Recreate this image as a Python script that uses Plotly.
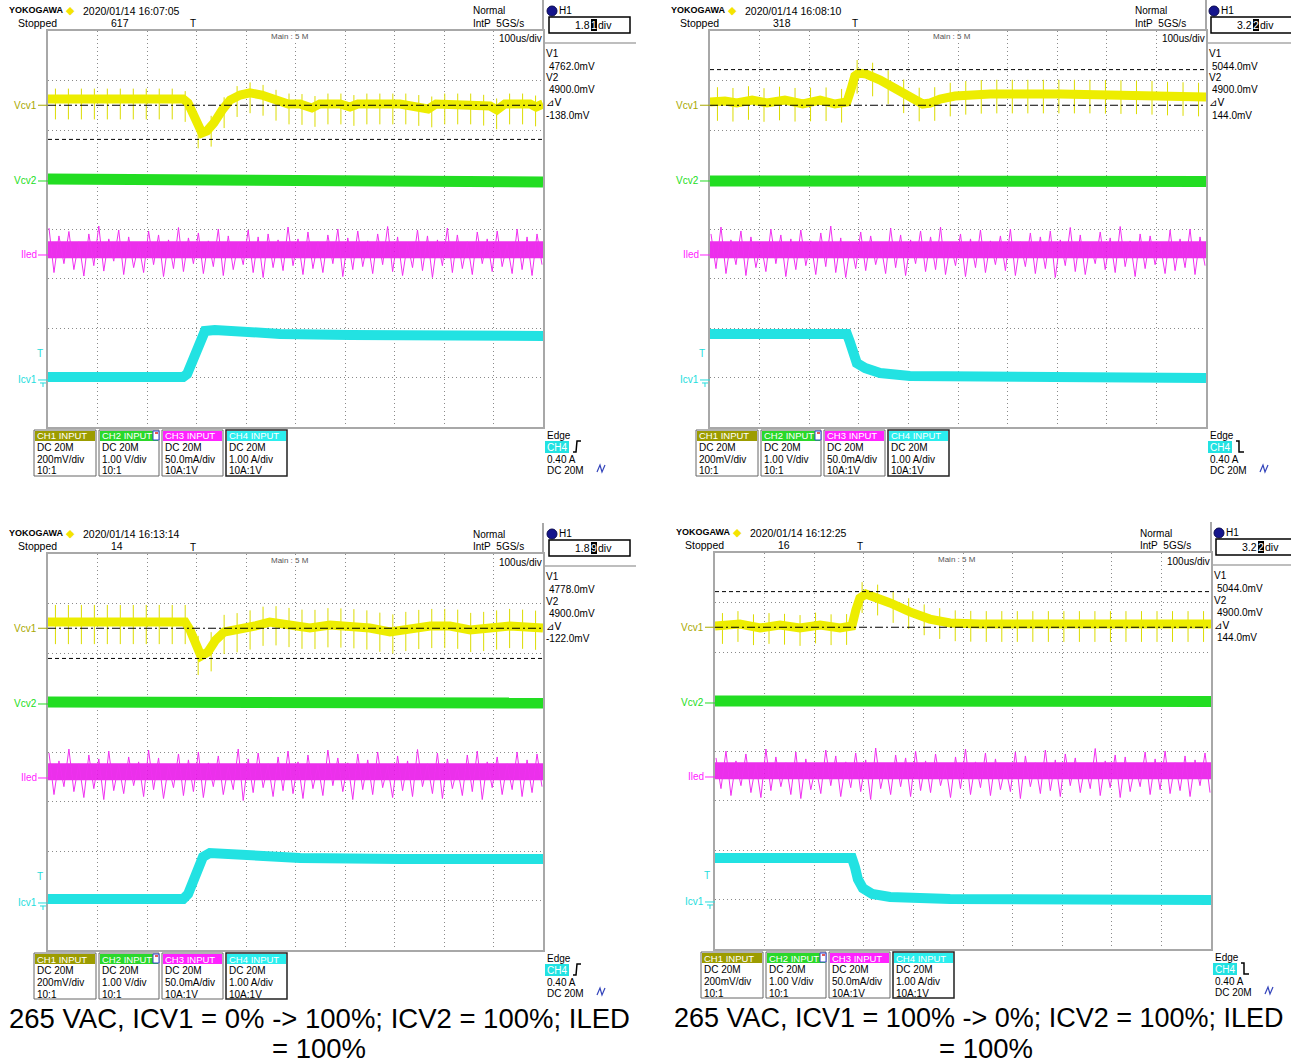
import numpy as np
import plotly.graph_objects as go

W, H = 1291, 1063
FONT = "Liberation Sans, Arial, sans-serif"

# ------------------------------------------------------------------
# Four scope captures, 100 us/div, 10 x 8 divisions.
# Time: microseconds from the left edge of the graticule.
# Vcv1 in mV (CH1), Icv1 in A (CH4), Vcv2 / Iled in screen divisions.
# ------------------------------------------------------------------
TIMESTAMPS = ["2020/01/14 16:07:05", "2020/01/14 16:08:10",
              "2020/01/14 16:13:14", "2020/01/14 16:12:25"]
ACQ_COUNTS = ["617", "318", "14", "16"]
H1_DIV = ["1.81", "3.22", "1.89", "3.22"]
CURSOR_V1_MV = [4762.0, 5044.0, 4778.0, 5044.0]
CURSOR_V2_MV = [4900.0, 4900.0, 4900.0, 4900.0]
TRIG_SLOPE = ["rise", "fall", "rise", "fall"]
TRIG_LEVEL_A = 0.40
TRIG_POS_US = 292
CAPTIONS = [
    ["265 VAC, ICV1 = 0% -> 100%; ICV2 = 100%; ILED", "= 100%"],
    ["265 VAC, ICV1 = 100% -> 0%; ICV2 = 100%; ILED", "= 100%"],
]
CH_HEAD = ["CH1 INPUT", "CH2 INPUT", "CH3 INPUT", "CH4 INPUT"]
CH_SETUP = [["DC 20M", "200mV/div", "10:1"],
            ["DC 20M", "1.00 V/div", "10:1"],
            ["DC 20M", "50.0mA/div", "10A:1V"],
            ["DC 20M", "1.00 A/div", "10A:1V"]]

# --- Vcv1 (mV) ---
P1_VCV1_T = [0, 145, 273, 283, 293, 303, 311, 321, 335, 352, 368, 388, 408, 432, 459, 485, 509,
             533, 549, 590, 610, 626, 711, 752, 768, 784, 853, 893, 907, 923, 974, 986, 1000]
P1_VCV1_MV = [4925, 4925, 4925, 4909, 4861, 4808, 4788, 4796, 4828, 4881, 4921, 4941, 4950, 4941,
              4921, 4905, 4905, 4889, 4905, 4905, 4893, 4905, 4905, 4897, 4885, 4905, 4905, 4897,
              4881, 4905, 4905, 4893, 4905]
P2_VCV1_T = [0, 30, 54, 85, 115, 151, 187, 222, 252, 276, 284, 292, 300, 315, 343, 373, 403, 429,
             444, 464, 494, 565, 706, 847, 1000]
P2_VCV1_MV = [4913, 4917, 4909, 4921, 4909, 4921, 4905, 4921, 4905, 4913, 4962, 5018, 5030, 5026,
              5002, 4966, 4933, 4905, 4909, 4925, 4937, 4945, 4945, 4941, 4933]
P3_VCV1_T = [0, 145, 277, 287, 299, 309, 323, 339, 356, 388, 418, 448, 489, 529, 570, 610, 650, 691,
             731, 772, 812, 853, 893, 933, 1000]
P3_VCV1_MV = [4925, 4925, 4925, 4893, 4820, 4788, 4804, 4853, 4885, 4893, 4909, 4925, 4913, 4901,
              4913, 4909, 4901, 4885, 4901, 4909, 4909, 4893, 4901, 4909, 4901]
P4_VCV1_T = [0, 50, 91, 131, 171, 212, 252, 276, 284, 292, 304, 323, 353, 393, 433, 474, 534, 776, 1000]
P4_VCV1_MV = [4905, 4913, 4897, 4909, 4897, 4909, 4897, 4905, 4970, 5018, 5034, 5022, 4998, 4962,
              4933, 4917, 4913, 4913, 4913]

# --- Vcv1 switching spikes (centre level of each spike, mV) ---
P1_VCV1_SPIKES = [4905, 4905, 4905, 4905, 4905, 4905, 4905, 4905, 4905, 4905,
                  4895, 4788, 4795, 4870, 4915, 4930, 4920, 4900, 4885, 4883,
                  4875, 4885, 4885, 4879, 4885, 4885, 4885, 4885, 4879, 4873,
                  4885, 4885, 4885, 4880, 4865, 4885, 4885, 4877]
P2_VCV1_SPIKES = [4905, 4902, 4909, 4901, 4907, 4902, 4903, 4904, 4898, 5015,
                  5004, 4973, 4936, 4903, 4905, 4923, 4930, 4934, 4935, 4935,
                  4935, 4935, 4935, 4935, 4935, 4934, 4933, 4932, 4930, 4927,
                  4925, 4923]
P3_VCV1_SPIKES = [4915, 4915, 4915, 4915, 4915, 4915, 4915, 4915, 4915, 4915,
                  4915, 4790, 4805, 4875, 4882, 4893, 4908, 4910, 4903, 4896,
                  4895, 4902, 4901, 4898, 4893, 4884, 4877, 4887, 4895, 4899,
                  4899, 4896, 4883, 4887, 4893, 4899, 4896, 4892]
P4_VCV1_SPIKES = [4895, 4903, 4890, 4895, 4892, 4887, 4897, 4890, 4891, 5020,
                  5010, 4980, 4955, 4930, 4915, 4906, 4904, 4903, 4903, 4903,
                  4903, 4903, 4903, 4903, 4903, 4903, 4903, 4903, 4903, 4903,
                  4903, 4903]

# --- Icv1 (A) ---
P1_ICV1_T = [0, 273, 281, 291, 301, 309, 317, 337, 388, 469, 610, 1000]
P1_ICV1_A = [0.06, 0.06, 0.12, 0.36, 0.67, 0.89, 0.99, 1.01, 0.97, 0.93, 0.91, 0.89]
P2_ICV1_T = [0, 276, 282, 288, 296, 313, 343, 403, 585, 1000]
P2_ICV1_A = [0.93, 0.93, 0.77, 0.51, 0.34, 0.24, 0.14, 0.08, 0.06, 0.04]
P3_ICV1_T = [0, 273, 283, 293, 303, 313, 327, 388, 509, 711, 1000]
P3_ICV1_A = [0.08, 0.08, 0.18, 0.44, 0.73, 0.93, 1.01, 0.97, 0.91, 0.89, 0.89]
P4_ICV1_T = [0, 276, 282, 288, 298, 317, 353, 474, 1000]
P4_ICV1_A = [0.89, 0.89, 0.71, 0.46, 0.28, 0.16, 0.10, 0.06, 0.04]

# --- Vcv2 (div) ---
P1_VCV2_T = [0, 500, 1000]
P1_VCV2_DIV = [5.01, 4.98, 4.95]
P2_VCV2_T = [0, 500, 1000]
P2_VCV2_DIV = [4.97, 4.97, 4.96]
P3_VCV2_T = [0, 500, 1000]
P3_VCV2_DIV = [5.01, 5.00, 4.99]
P4_VCV2_T = [0, 500, 1000]
P4_VCV2_DIV = [5.01, 5.01, 5.00]

# --- Iled ripple (div): mean level and successive peak excursions ---
P1_ILED_LEVEL = 3.58
P2_ILED_LEVEL = 3.58
P3_ILED_LEVEL = 3.60
P4_ILED_LEVEL = 3.60
P1_ILED_PEAKS = [4.02, 3.12, 3.86, 3.30, 3.95, 3.18, 3.74, 3.05, 3.90, 3.26,
                 4.06, 3.15, 3.80, 3.35, 3.98, 3.08, 3.84, 3.22, 3.70, 3.12,
                 3.96, 3.28, 3.88, 3.04, 3.78, 3.20, 4.03, 3.14, 3.82, 3.30,
                 3.92, 3.10, 3.76, 3.24, 4.00, 3.06, 3.86, 3.18, 3.72, 3.28,
                 3.98, 3.12, 3.84, 3.02, 3.90, 3.22, 3.78, 3.16, 4.04, 3.26,
                 3.80, 3.08, 3.94, 3.20, 3.74, 3.12, 3.88, 3.30, 4.00, 3.04,
                 3.82, 3.18, 3.96, 3.24, 3.76, 3.10, 3.90, 3.28, 4.05, 3.14,
                 3.84, 3.06, 3.72, 3.22, 3.98, 3.16, 3.86, 3.02, 3.78, 3.26,
                 4.02, 3.12, 3.88, 3.20, 3.74, 3.08, 3.94, 3.30, 3.80, 3.14,
                 3.96, 3.24, 3.70, 3.10, 4.00, 3.18, 3.84, 3.06, 3.90, 3.28]
P2_ILED_PEAKS = [3.90, 3.20, 4.04, 3.10, 3.78, 3.28, 3.96, 3.06, 3.84, 3.22,
                 3.72, 3.14, 4.00, 3.30, 3.88, 3.04, 3.80, 3.18, 3.98, 3.26,
                 3.76, 3.08, 3.92, 3.24, 4.06, 3.12, 3.82, 3.02, 3.74, 3.20,
                 3.94, 3.16, 3.86, 3.28, 3.70, 3.10, 4.02, 3.22, 3.88, 3.06,
                 3.78, 3.30, 3.96, 3.14, 3.84, 3.18, 4.04, 3.08, 3.72, 3.26,
                 3.90, 3.04, 3.80, 3.22, 3.98, 3.12, 3.76, 3.28, 3.86, 3.16,
                 4.00, 3.06, 3.74, 3.24, 3.92, 3.10, 3.84, 3.20, 3.96, 3.02,
                 3.78, 3.26, 4.03, 3.14, 3.88, 3.08, 3.70, 3.30, 3.94, 3.18,
                 3.82, 3.12, 4.05, 3.24, 3.76, 3.04, 3.90, 3.20, 3.86, 3.28,
                 3.72, 3.10, 3.98, 3.16, 3.80, 3.22, 4.00, 3.08, 3.84, 3.26]
P3_ILED_PEAKS = [3.98, 3.14, 3.82, 3.30, 4.06, 3.20, 3.76, 3.08, 3.94, 3.26,
                 3.86, 3.04, 4.02, 3.22, 3.74, 3.16, 3.90, 3.32, 3.80, 3.10,
                 4.04, 3.24, 3.88, 3.06, 3.72, 3.28, 3.96, 3.12, 3.84, 3.20,
                 4.00, 3.08, 3.78, 3.30, 3.92, 3.14, 3.70, 3.24, 4.06, 3.02,
                 3.86, 3.18, 3.98, 3.28, 3.76, 3.10, 3.90, 3.22, 4.02, 3.16,
                 3.80, 3.06, 3.94, 3.26, 3.74, 3.12, 4.04, 3.32, 3.88, 3.20,
                 3.78, 3.04, 3.96, 3.24, 3.84, 3.14, 4.00, 3.28, 3.72, 3.08,
                 3.92, 3.22, 3.82, 3.10, 4.05, 3.30, 3.76, 3.16, 3.98, 3.06,
                 3.86, 3.26, 3.70, 3.12, 3.94, 3.20, 4.02, 3.04, 3.80, 3.28,
                 3.90, 3.14, 3.76, 3.24, 4.00, 3.10, 3.84, 3.18, 3.96, 3.30]
P4_ILED_PEAKS = [3.86, 3.24, 4.00, 3.10, 3.80, 3.30, 3.94, 3.16, 3.74, 3.06,
                 4.04, 3.20, 3.88, 3.28, 3.76, 3.12, 3.98, 3.04, 3.84, 3.22,
                 3.70, 3.14, 4.02, 3.30, 3.90, 3.08, 3.78, 3.26, 3.96, 3.18,
                 3.82, 3.02, 4.06, 3.24, 3.74, 3.12, 3.92, 3.28, 3.86, 3.08,
                 4.00, 3.20, 3.80, 3.16, 3.94, 3.30, 3.72, 3.06, 3.88, 3.24,
                 4.04, 3.12, 3.78, 3.26, 3.96, 3.10, 3.84, 3.22, 3.70, 3.18,
                 3.98, 3.04, 3.90, 3.28, 3.76, 3.14, 4.02, 3.20, 3.82, 3.08,
                 3.94, 3.30, 3.86, 3.16, 3.74, 3.24, 4.05, 3.10, 3.80, 3.26,
                 3.92, 3.06, 3.88, 3.18, 3.72, 3.28, 3.98, 3.12, 3.84, 3.22,
                 4.00, 3.14, 3.76, 3.20, 3.90, 3.08, 3.82, 3.30, 3.96, 3.16]

PANELS = [
    dict(vt=P1_VCV1_T, vmv=P1_VCV1_MV, vsp=P1_VCV1_SPIKES, it=P1_ICV1_T, ia=P1_ICV1_A,
         gt=P1_VCV2_T, gd=P1_VCV2_DIV, ml=P1_ILED_LEVEL, mp=P1_ILED_PEAKS),
    dict(vt=P2_VCV1_T, vmv=P2_VCV1_MV, vsp=P2_VCV1_SPIKES, it=P2_ICV1_T, ia=P2_ICV1_A,
         gt=P2_VCV2_T, gd=P2_VCV2_DIV, ml=P2_ILED_LEVEL, mp=P2_ILED_PEAKS),
    dict(vt=P3_VCV1_T, vmv=P3_VCV1_MV, vsp=P3_VCV1_SPIKES, it=P3_ICV1_T, ia=P3_ICV1_A,
         gt=P3_VCV2_T, gd=P3_VCV2_DIV, ml=P3_ILED_LEVEL, mp=P3_ILED_PEAKS),
    dict(vt=P4_VCV1_T, vmv=P4_VCV1_MV, vsp=P4_VCV1_SPIKES, it=P4_ICV1_T, ia=P4_ICV1_A,
         gt=P4_VCV2_T, gd=P4_VCV2_DIV, ml=P4_ILED_LEVEL, mp=P4_ILED_PEAKS),
]

# ------------------------------------------------------------------
# Screen geometry and styling
# ------------------------------------------------------------------
ORIGIN = [(48, 31), (710, 31), (48, 554), (715, 553)]   # graticule top-left, px
GRID_W = [495, 496, 495, 496]
GRID_H = 396
DIV = GRID_H / 8
CH1_OFFSET_MV, CH1_MV_DIV = 4900.0, 200.0
CH_MARK = [6.5, 4.97, 3.475, 0.95]          # channel markers, div above bottom line
SPIKE_PX = [22, 24, 28, 22]

YEL, GRN, MAG, MAG_LT, CYN = "#eded00", "#22dd22", "#e80ce8", "#f030f0", "#22e2e2"
LABEL_COL = ["#a8a800", "#22dd22", "#ff22ff", "#22dddd"]
HEAD_COL = ["#9c9c00", "#2ad82a", "#ff22ff", "#2beeee"]

fig = go.Figure()
annotations, shapes, axes = [], [], {}


def text(x, y, s, size=10, color="#000", xanchor="left", yanchor="middle",
         bg=None, xref="paper", yref="paper", family=FONT):
    a = dict(text=s, showarrow=False, xanchor=xanchor, yanchor=yanchor,
             x=x / W if xref == "paper" else x, y=1 - y / H if yref == "paper" else y,
             xref=xref, yref=yref, borderpad=0,
             font=dict(size=size, color=color, family=family))
    if bg:
        a["bgcolor"] = bg
    annotations.append(a)


def box(x0, y0, x1, y1, fill="rgba(0,0,0,0)", line="#000", lw=1.0):
    shapes.append(dict(type="rect", xref="paper", yref="paper",
                       x0=x0 / W, x1=x1 / W, y0=1 - y1 / H, y1=1 - y0 / H,
                       fillcolor=fill, line=dict(color=line, width=lw), layer="above"))


def poly(pts, color="#000", lw=1.0):
    path = "M " + " L ".join(f"{x / W:.6f},{1 - y / H:.6f}" for x, y in pts)
    shapes.append(dict(type="path", path=path, xref="paper", yref="paper",
                       line=dict(color=color, width=lw), layer="above"))


grid_style = dict(showgrid=True, gridcolor="#8a8a8a", griddash="1px,3px", gridwidth=1,
                  showline=True, linecolor="#a8a8a8", linewidth=2, mirror=True,
                  zeroline=False, showticklabels=False, ticks="", fixedrange=True)

for i, pdat in enumerate(PANELS):
    L, T = ORIGIN[i]
    GW = GRID_W[i]
    R, B = L + GW, T + GRID_H
    dx, dy = L - 48, T - 31
    xi = i + 1
    xname = "x" if xi == 1 else f"x{xi}"
    xkey = "xaxis" if xi == 1 else f"xaxis{xi}"
    idx = [3 * i + 1, 3 * i + 2, 3 * i + 3]
    yn = ["y" if k == 1 else f"y{k}" for k in idx]
    yk = ["yaxis" if k == 1 else f"yaxis{k}" for k in idx]

    axes[xkey] = dict(domain=[L / W, R / W], range=[0, 1000], dtick=100, anchor=yn[0], **grid_style)
    axes[yk[0]] = dict(domain=[1 - B / H, 1 - T / H], range=[0, 8], dtick=1, anchor=xname, **grid_style)
    axes[yk[1]] = dict(overlaying=yn[0], anchor=xname, visible=False, fixedrange=True,
                       range=[CH1_OFFSET_MV - CH_MARK[0] * CH1_MV_DIV,
                              CH1_OFFSET_MV + (8 - CH_MARK[0]) * CH1_MV_DIV])
    axes[yk[2]] = dict(overlaying=yn[0], anchor=xname, visible=False, fixedrange=True,
                       range=[-CH_MARK[3], 8 - CH_MARK[3]])

    common = dict(hoverinfo="skip", showlegend=False, xaxis=xname)

    # CH2 : Vcv2
    fig.add_trace(go.Scatter(x=pdat["gt"], y=pdat["gd"], mode="lines",
                             line=dict(color=GRN, width=11), yaxis=yn[0], **common))
    # CH3 : Iled ripple - dense core and the noisy trace through its peaks
    fig.add_trace(go.Scatter(x=[0, 1000], y=[pdat["ml"], pdat["ml"]], mode="lines",
                             line=dict(color=MAG, width=17), opacity=0.85, yaxis=yn[0], **common))
    ts = np.linspace(2, 998, len(pdat["mp"]))
    fig.add_trace(go.Scatter(x=ts, y=pdat["mp"], mode="lines",
                             line=dict(color=MAG_LT, width=1), yaxis=yn[0], **common))
    # CH1 : Vcv1 band and switching spikes
    tsp = np.linspace(15, 985, len(pdat["vsp"]))
    fig.add_trace(go.Scatter(x=tsp, y=pdat["vsp"], mode="markers",
                             marker=dict(symbol="line-ns", size=SPIKE_PX[i],
                                         line=dict(color="#dcdc00", width=1)),
                             yaxis=yn[1], **common))
    fig.add_trace(go.Scatter(x=pdat["vt"], y=pdat["vmv"], mode="lines",
                             line=dict(color=YEL, width=9), yaxis=yn[1], **common))
    # CH4 : Icv1
    fig.add_trace(go.Scatter(x=pdat["it"], y=pdat["ia"], mode="lines",
                             line=dict(color=CYN, width=10), yaxis=yn[2], **common))
    # V1 / V2 cursors
    v1, v2 = CURSOR_V1_MV[i], CURSOR_V2_MV[i]
    fig.add_trace(go.Scatter(x=[0, 1000], y=[v1, v1], mode="lines",
                             line=dict(color="#000", width=1, dash="4px,3px"), yaxis=yn[1], **common))
    fig.add_trace(go.Scatter(x=[0, 1000], y=[v2, v2], mode="lines",
                             line=dict(color="#000", width=1, dash="8px,3px,2px,3px"),
                             yaxis=yn[1], **common))

    # ---------- header ----------
    text(8 + dx, 10 + dy, "<b>YOKOGAWA</b>", 9)
    text(70 + dx, 10 + dy, "◆", 11, "#f4e400", "center")
    text(82 + dx, 11 + dy, TIMESTAMPS[i], 10.5)
    text(17 + dx, 23 + dy, "Stopped", 10.5)
    text(110 + dx, 23 + dy, ACQ_COUNTS[i], 10.5)
    text(472 + dx, 11 + dy, "Normal", 10)
    text(472 + dx, 23 + dy, "IntP\u00a0 5GS/s", 10)
    text(290 + dx, 37 + dy, "Main : 5 M", 8, "#555", "center", bg="white")
    text(R, 39 + dy, "100us/div", 10, xanchor="right", bg="white")
    text(TRIG_POS_US, 24 + dy, "T", 10, xanchor="center", xref=xname)

    # ---------- H1 cursor box ----------
    shapes.append(dict(type="circle", xref="paper", yref="paper",
                       x0=(547 + dx) / W, x1=(557 + dx) / W,
                       y0=1 - (16 + dy) / H, y1=1 - (6 + dy) / H,
                       fillcolor="#15158c", line=dict(color="#0a0a50", width=1), layer="above"))
    text(558 + dx, 10 + dy, "H1", 10)
    box(549 + dx, 17 + dy, 630 + dx, 33 + dy, lw=1.5)
    hv = H1_DIV[i]
    text(591 + dx, 25 + dy, hv[:-1], 10.5, xanchor="right")
    box(591 + dx, 19 + dy, 597 + dx, 31 + dy, fill="#000", lw=0)
    text(594 + dx, 25 + dy, hv[-1], 10.5, "#fff", "center")
    text(597 + dx, 25 + dy, "div", 10.5)
    poly([(R, dy), (R, T)], "#a8a8a8", 2)
    poly([(R, 43 + dy), (R + 93, 43 + dy)], "#a8a8a8", 1.5)

    # ---------- cursor readouts ----------
    text(R + 2, 53 + dy, "V1", 10)
    text(R + 5, 66 + dy, f"{v1:.1f}mV", 10)
    text(R + 2, 78 + dy, "V2", 10)
    text(R + 5, 90 + dy, f"{v2:.1f}mV", 10)
    text(R + 2, 103 + dy, "⊿V", 10, family="DejaVu Sans, " + FONT)
    d = v1 - v2
    text(R + 2 if d < 0 else R + 5, 115 + dy, f"{d:.1f}mV", 10)

    # ---------- channel markers ----------
    names = ["Vcv1", "Vcv2", "Iled", "Icv1"]
    for k in range(4):
        ym = T + (8 - CH_MARK[k]) * DIV
        text(L - 10, ym, names[k], 10, LABEL_COL[k], "right")
        poly([(L - 10, ym), (L, ym)], LABEL_COL[k], 1)
        if k == 3:
            poly([(L - 8, ym + 3), (L - 2, ym + 3)], LABEL_COL[k], 1)
            poly([(L - 5, ym + 3), (L - 5, ym + 7)], LABEL_COL[k], 1)
    text(L - 8, TRIG_LEVEL_A, "T", 10, LABEL_COL[3], "center", "bottom", yref=yn[2])

    # ---------- channel setup boxes ----------
    for k, (x0, x1) in enumerate([(34, 96), (99, 159), (162, 223), (226, 287)]):
        box(x0 + dx, 430 + dy, x1 + dx, 476 + dy, fill="#fff",
            line="#222" if k == 3 else "#666", lw=1.5 if k == 3 else 1)
        box(x0 + dx + 1, 431 + dy, x1 + dx - 1, 441 + dy, fill=HEAD_COL[k], lw=0)
        text(x0 + dx + 2, 436 + dy, CH_HEAD[k], 9.5, "#fff")
        for j, s in enumerate(CH_SETUP[k]):
            text(x0 + dx + 2, 447 + dy + 12 * j, s, 10)
    box(153 + dx, 431 + dy, 159 + dx, 440 + dy, fill="#fff", line="#3344cc", lw=1)
    poly([(155 + dx, 433 + dy), (158 + dx, 433 + dy)], "#dd2222", 1.5)

    # ---------- trigger block ----------
    text(R + 3, 435 + dy, "Edge", 10)
    box(R + 2, 441 + dy, R + 26, 453 + dy, fill=CYN, lw=0)
    text(R + 14, 447 + dy, "CH4", 10, "#fff", "center")
    if TRIG_SLOPE[i] == "rise":
        poly([(R + 30, 452 + dy), (R + 33, 452 + dy), (R + 34, 441 + dy), (R + 38, 441 + dy)], "#000", 1.5)
    else:
        poly([(R + 30, 441 + dy), (R + 33, 441 + dy), (R + 33, 452 + dy), (R + 38, 452 + dy)], "#000", 1.5)
    text(R + 3, 459 + dy, f"{TRIG_LEVEL_A:.2f} A", 10)
    text(R + 3, 470 + dy, "DC 20M", 10)
    poly([(R + 54, 472 + dy), (R + 57, 465 + dy), (R + 59, 472 + dy), (R + 62, 465 + dy)], "#3344bb", 1.2)

# ---------- captions ----------
text(319, 1018, CAPTIONS[0][0], 27.5, "#000", "center", family=FONT)
text(319, 1048, CAPTIONS[0][1], 27.5, "#000", "center", family=FONT)
text(673, 1018, CAPTIONS[1][0], 27, "#000", "left", family=FONT)
text(986, 1048, CAPTIONS[1][1], 27.5, "#000", "center", family=FONT)

fig.update_layout(width=W, height=H, margin=dict(l=0, r=0, t=0, b=0),
                  paper_bgcolor="white", plot_bgcolor="white", showlegend=False,
                  annotations=annotations, shapes=shapes, **axes)
fig.write_html("out.html")
